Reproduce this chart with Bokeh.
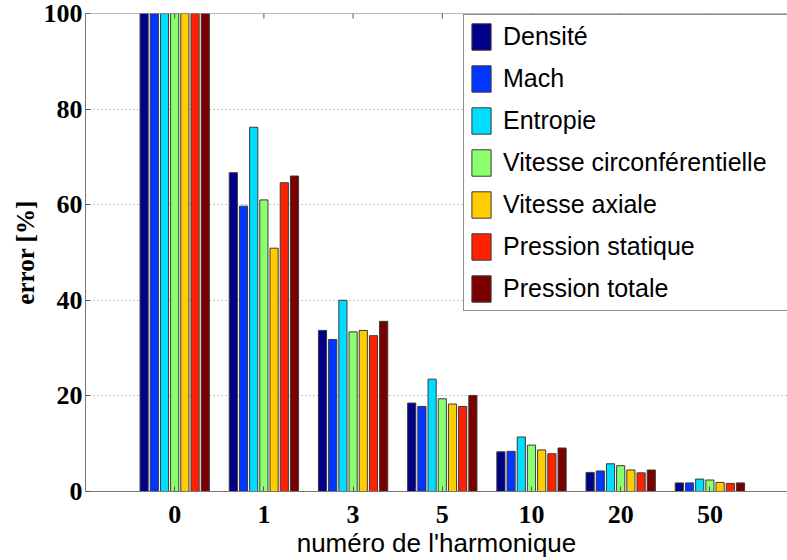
import math
from bokeh.plotting import figure
from bokeh.models import (ColumnDataSource, Range1d, FixedTicker, Span,
                          Legend, LegendItem)
from bokeh.transform import dodge
from bokeh.embed import file_html
from bokeh.resources import INLINE

# Harmonic numbers shown on the x axis
harmonics = ["0", "1", "3", "5", "10", "20", "50"]

# Error (%) per variable and harmonic
densite = [100, 66.7, 33.7, 18.5, 8.3, 4.0, 1.8]
mach = [100, 59.7, 31.8, 17.8, 8.4, 4.3, 1.8]
entropie = [100, 76.2, 40.0, 23.5, 11.4, 5.8, 2.6]
vitesse_circ = [100, 61.0, 33.4, 19.4, 9.7, 5.4, 2.4]
vitesse_axiale = [100, 50.9, 33.7, 18.3, 8.7, 4.5, 1.9]
pression_statique = [100, 64.6, 32.6, 17.8, 7.9, 3.9, 1.7]
pression_totale = [100, 66.0, 35.6, 20.1, 9.1, 4.5, 1.8]

series_names = ["Densité", "Mach", "Entropie", "Vitesse circonférentielle",
                "Vitesse axiale", "Pression statique", "Pression totale"]
series_values = [densite, mach, entropie, vitesse_circ, vitesse_axiale,
                 pression_statique, pression_totale]
colors = ["#000088", "#0036FF", "#00DDFF", "#8CFF6E", "#FFCC00", "#FF2200", "#7A0000"]

Y_MAX = 100
positions = list(range(1, len(harmonics) + 1))
data = {"pos": positions}
for i, vals in enumerate(series_values):
    data[f"s{i}"] = vals
source = ColumnDataSource(data)

SERIF = "Liberation Serif"
SANS = "Liberation Sans"
AXIS_GREY = "#777777"

p = figure(width=787, height=560, output_backend="svg", toolbar_location=None,
           x_range=Range1d(0, 7.87), y_range=Range1d(0, Y_MAX),
           min_border_left=85, min_border_right=0, min_border_top=13,
           min_border_bottom=69, outline_line_color=None,
           background_fill_color="white", border_fill_color="white")

# grouped bars: 7 series per harmonic
n = len(series_values)
group_w = 0.8
step = group_w / n
bar_w = step * 0.8
items = []
for i, (name, col) in enumerate(zip(series_names, colors)):
    off = (i - (n - 1) / 2) * step
    r = p.vbar(x=dodge("pos", off, range=p.x_range), top=f"s{i}", width=bar_w,
               bottom=0, source=source, fill_color=col, line_color="#3a3a3a",
               line_width=1)
    items.append(LegendItem(label=name, renderers=[r]))

# top edge of the axes box with inward ticks at each harmonic
p.add_layout(Span(location=Y_MAX, dimension="width", line_color=AXIS_GREY, line_width=1))
p.scatter(x=positions, y=[Y_MAX] * len(positions), marker="dash", size=10,
          angle=math.pi / 2, line_color="#555555", line_width=1)

# axes
xaxis = p.xaxis[0]
xaxis.ticker = FixedTicker(ticks=positions)
xaxis.major_label_overrides = {pos: lab for pos, lab in zip(positions, harmonics)}
xaxis.axis_label = "numéro de l'harmonique"
xaxis.axis_label_text_font = SANS
xaxis.axis_label_text_font_style = "normal"
xaxis.axis_label_text_font_size = "26px"
xaxis.axis_label_standoff = 2
xaxis.major_label_text_font = SERIF
xaxis.major_label_text_font_style = "bold"
xaxis.major_label_text_font_size = "26px"
xaxis.major_label_standoff = 14
xaxis.minor_tick_line_color = None

yaxis = p.yaxis[0]
yaxis.ticker = FixedTicker(ticks=[0, 20, 40, 60, 80, 100])
yaxis.axis_label = "error [%]"
yaxis.axis_label_text_font = SERIF
yaxis.axis_label_text_font_style = "bold"
yaxis.axis_label_text_font_size = "25px"
yaxis.axis_label_standoff = 2
yaxis.major_label_text_font = SERIF
yaxis.major_label_text_font_style = "bold"
yaxis.major_label_text_font_size = "26px"
yaxis.major_label_standoff = 3
yaxis.minor_tick_line_color = None

for ax in (xaxis, yaxis):
    ax.axis_line_color = AXIS_GREY
    ax.major_tick_line_color = "#555555"
    ax.major_tick_in = 5
    ax.major_tick_out = 0
    ax.major_label_text_color = "black"
    ax.axis_label_text_color = "black"

p.xgrid.grid_line_color = None
p.ygrid.grid_line_color = "#8a8a8a"
p.ygrid.grid_line_dash = "1 3"
p.ygrid.grid_line_width = 1

legend = Legend(items=items, location=(378, 180), orientation="vertical",
                glyph_width=24, glyph_height=33, spacing=9, padding=5,
                margin=0, label_standoff=10, label_width=285,
                label_text_font=SANS, label_text_font_size="25px",
                label_text_color="black", border_line_color="#222222",
                border_line_width=1, background_fill_color="white",
                background_fill_alpha=1)
p.add_layout(legend, "center")

open("out.html", "w").write(file_html(p, INLINE))
